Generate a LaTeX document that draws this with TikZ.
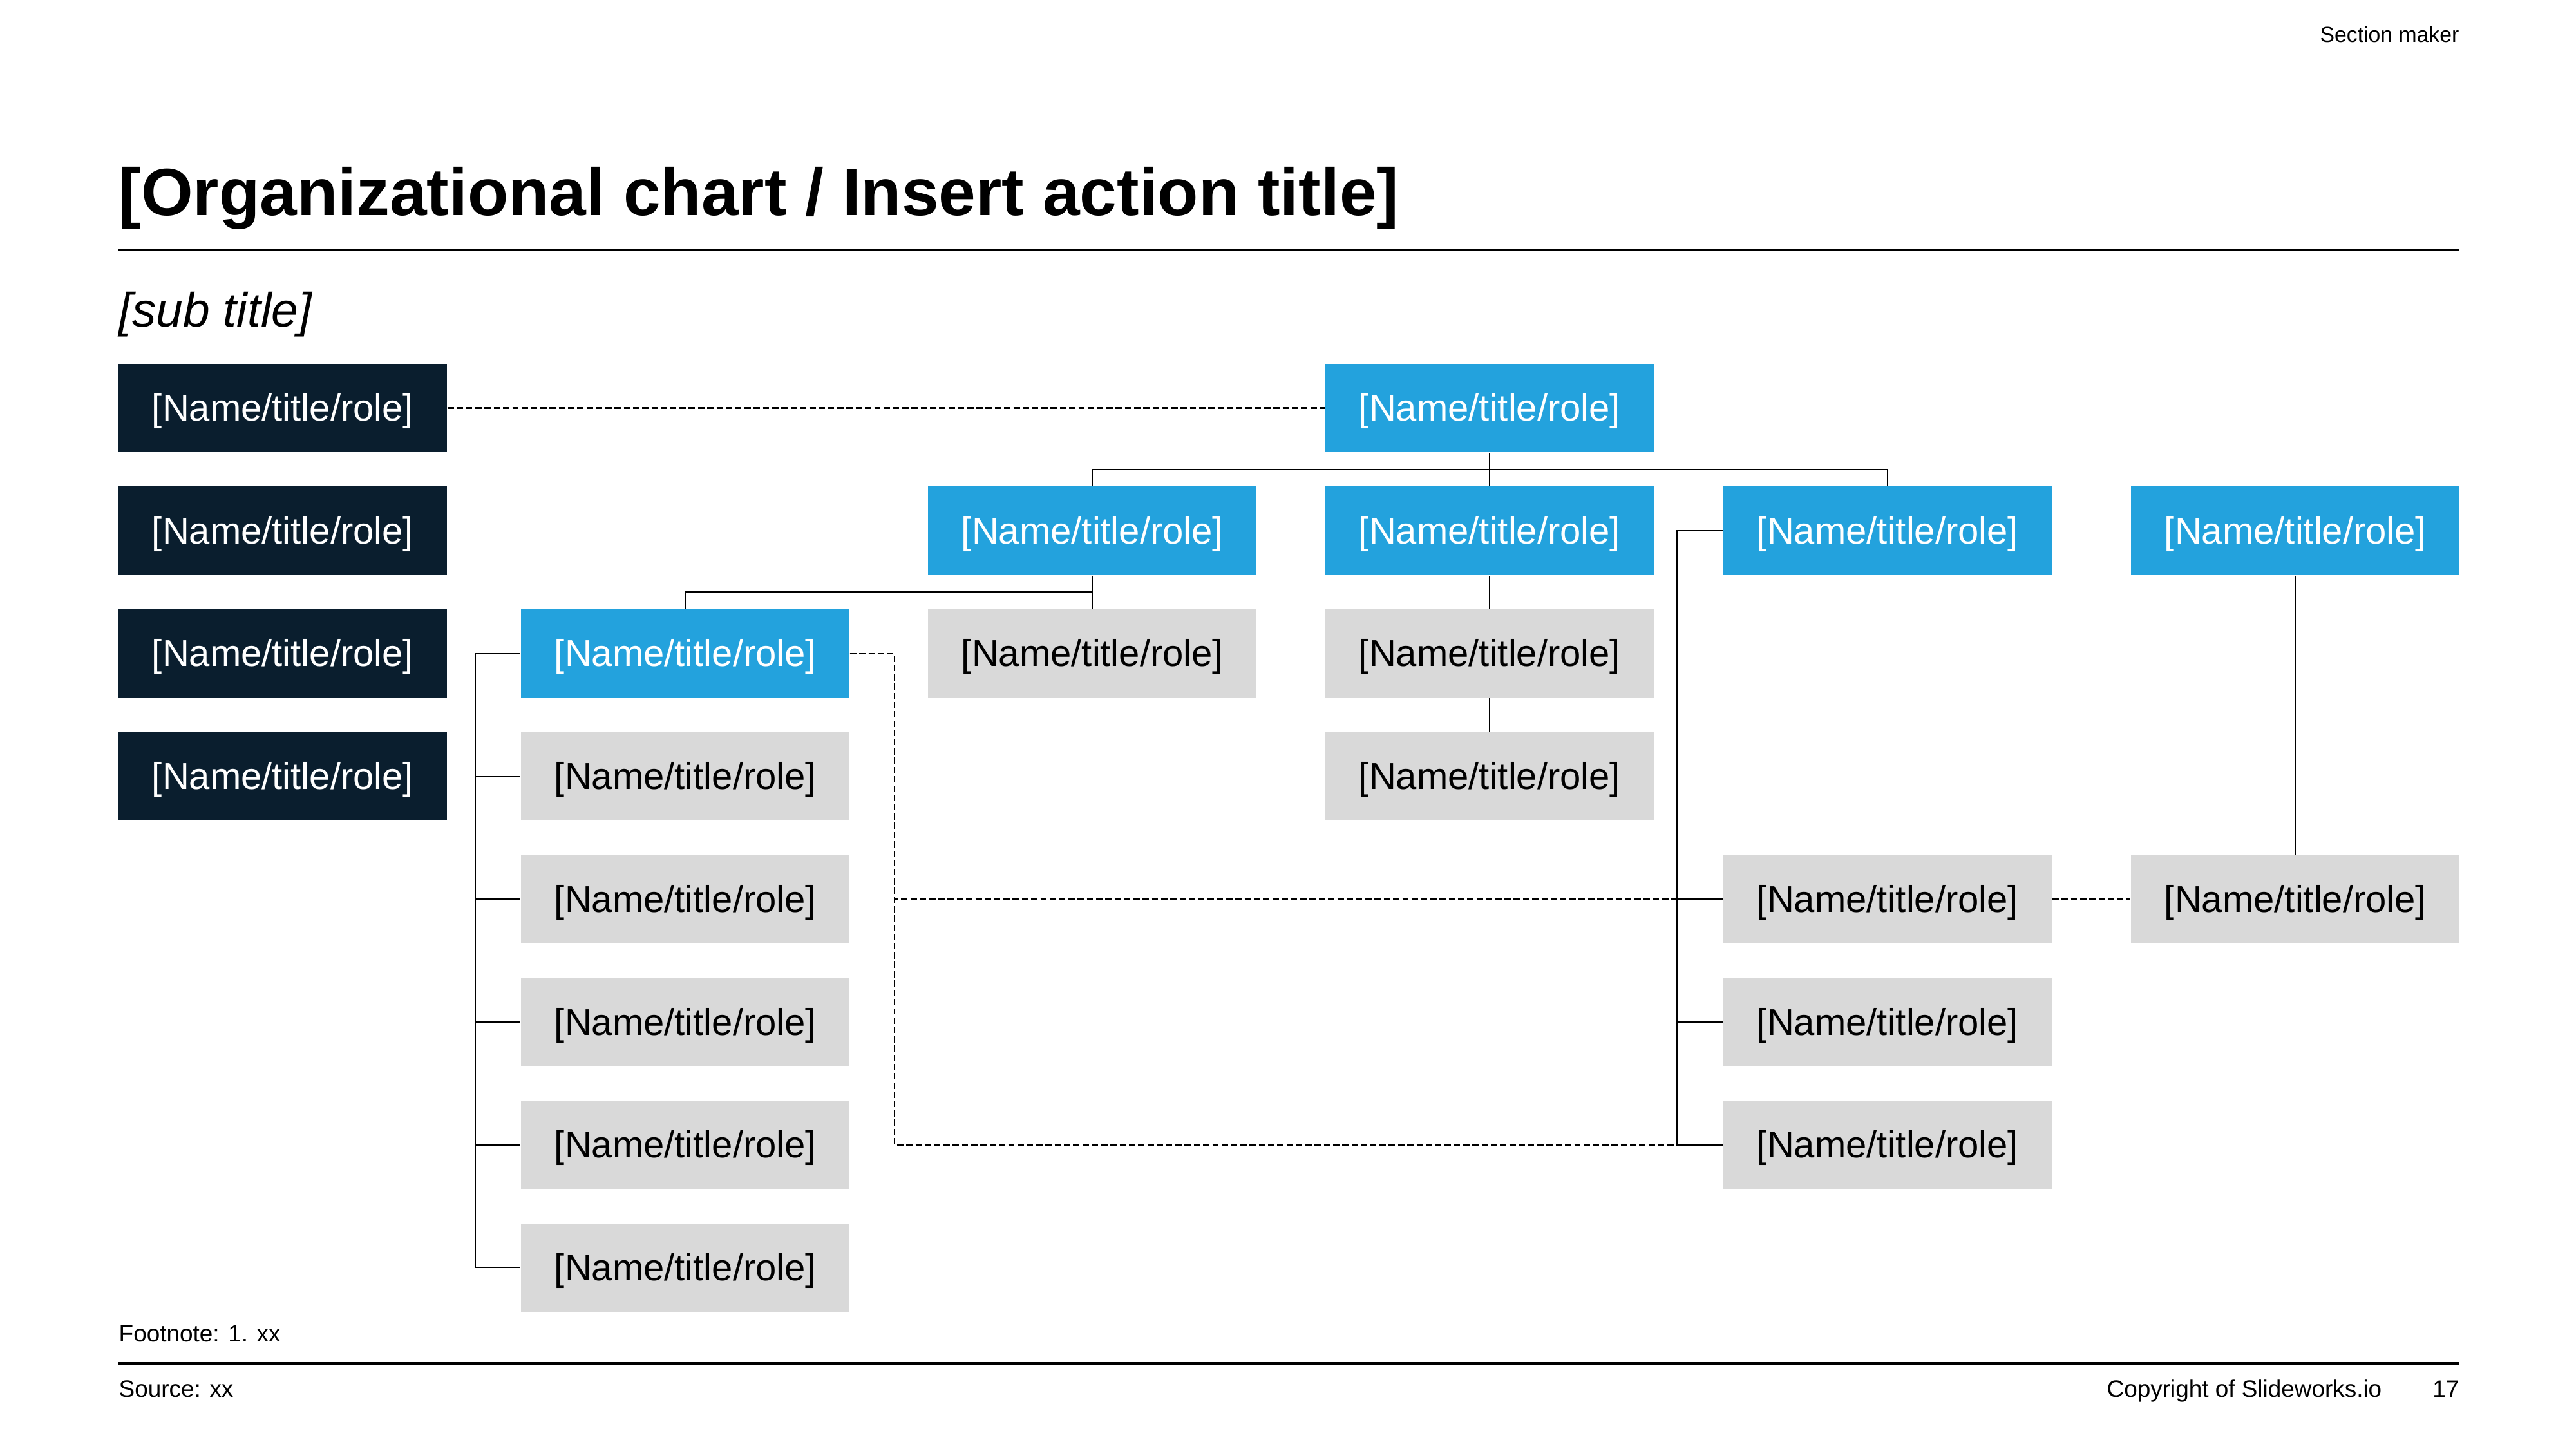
\documentclass[tikz,border=0pt]{standalone}
\usepackage{fontspec}
\setmainfont{Liberation Sans}
\usepackage{tikz}
\usetikzlibrary{positioning,calc}
\definecolor{navybox}{HTML}{0A1E2E}
\definecolor{orgblue}{HTML}{23A2DD}
\definecolor{orggray}{HTML}{D9D9D9}
\tikzset{
  orgbox/.style={inner sep=0pt, minimum width=5.1cm, minimum height=1.375cm, text height=14.9pt, text depth=3.5pt, align=center, font=\fontsize{16.5}{19}\selectfont},
  darknode/.style={orgbox, fill=navybox, text=white},
  bluenode/.style={orgbox, fill=orgblue, text=white},
  graynode/.style={orgbox, fill=orggray, text=black},
  orgline/.style={line width=0.6pt, black},
  dotline/.style={line width=0.6pt, black, dash pattern=on 2.8pt off 1.3pt},
  smalltext/.style={inner sep=0pt, font=\fontsize{10.5}{12}\selectfont}
}

\begin{document}
\begin{tikzpicture}
  \fill[white] (0,0) rectangle (40,-22.5);
  \useasboundingbox (0,0) rectangle (40,-22.5);

  % header
  \node[smalltext, anchor=base east, font=\fontsize{9.6}{11}\selectfont] (section) at (38.19,-0.66) {Section maker};
  \node[inner sep=0pt, anchor=base west, font=\fontsize{29.5}{34}\selectfont\bfseries] (title) at (1.84,-3.35) {[Organizational chart / Insert action title]};
  \draw[line width=1pt] (1.84,-3.88) -- (38.19,-3.88);
  \node[inner sep=0pt, anchor=base west, font=\fontsize{21.3}{25}\selectfont\itshape] (subtitle) at (1.84,-5.08) {[sub title]};

  % left column
  \node[darknode] (d1) at (4.39,-6.335) {[Name/title/role]};
  \node[darknode] (d2) at (4.39,-8.242) {[Name/title/role]};
  \node[darknode] (d3) at (4.39,-10.149) {[Name/title/role]};
  \node[darknode] (d4) at (4.39,-12.056) {[Name/title/role]};

  % head and second level
  \node[bluenode] (head) at (23.13,-6.335) {[Name/title/role]};
  \node[bluenode] (b2) at (16.96,-8.242) {[Name/title/role]};
  \node[bluenode] (b3) at (23.13,-8.242) {[Name/title/role]};
  \node[bluenode] (b4) at (29.31,-8.242) {[Name/title/role]};
  \node[bluenode] (b5) at (35.64,-8.242) {[Name/title/role]};
  \node[bluenode] (b1) at (10.64,-10.149) {[Name/title/role]};

  % gray boxes
  \node[graynode] (g2a) at (16.96,-10.149) {[Name/title/role]};
  \node[graynode] (g3a) at (23.13,-10.149) {[Name/title/role]};
  \node[graynode] (g3b) at (23.13,-12.056) {[Name/title/role]};
  \node[graynode] (g1a) at (10.64,-12.056) {[Name/title/role]};
  \node[graynode] (g1b) at (10.64,-13.963) {[Name/title/role]};
  \node[graynode] (g1c) at (10.64,-15.870) {[Name/title/role]};
  \node[graynode] (g1d) at (10.64,-17.777) {[Name/title/role]};
  \node[graynode] (g1e) at (10.64,-19.684) {[Name/title/role]};
  \node[graynode] (g4a) at (29.31,-13.963) {[Name/title/role]};
  \node[graynode] (g4b) at (29.31,-15.870) {[Name/title/role]};
  \node[graynode] (g4c) at (29.31,-17.777) {[Name/title/role]};
  \node[graynode] (g5a) at (35.64,-13.963) {[Name/title/role]};

  % solid reporting lines
  \draw[orgline] (head.south) -- (b3.north);
  \draw[orgline] (b2.north) |- ($(head.south)!0.5!(b3.north)$) -| (b4.north);
  \draw[orgline] (b2.south) -- (g2a.north);
  \draw[orgline] ($(b2.south)!0.5!(g2a.north)$) -| (b1.north);
  \draw[orgline] (b3.south) -- (g3a.north);
  \draw[orgline] (g3a.south) -- (g3b.north);
  \draw[orgline] (b5.south) -- (g5a.north);
  \draw[orgline] (b1.west) -- ++(-0.7,0) |- (g1e.west);
  \draw[orgline] (b1.west) -- ++(-0.7,0) |- (g1a.west);
  \draw[orgline] (b1.west) -- ++(-0.7,0) |- (g1b.west);
  \draw[orgline] (b1.west) -- ++(-0.7,0) |- (g1c.west);
  \draw[orgline] (b1.west) -- ++(-0.7,0) |- (g1d.west);
  \draw[orgline] (b4.west) -- ++(-0.71,0) |- (g4c.west);
  \draw[orgline] (b4.west) -- ++(-0.71,0) |- (g4a.west);
  \draw[orgline] (b4.west) -- ++(-0.71,0) |- (g4b.west);

  % dotted lines
  \draw[dotline] (d1.east) -- (head.west);
  \draw[dotline] (b1.east) -- ++(0.69,0) |- (g4a.west);
  \draw[dotline] (b1.east) -- ++(0.69,0) |- (g4c.west);
  \draw[dotline] (g4a.east) -- (g5a.west);

  % footer
  \node[smalltext, anchor=base west] (footnote) at (1.84,-20.83) {Footnote: 1. xx};
  \draw[line width=1pt] (1.84,-21.17) -- (38.19,-21.17);
  \node[smalltext, anchor=base west] (source) at (1.84,-21.69) {Source: xx};
  \node[smalltext, anchor=base east] (copyright) at (36.99,-21.69) {Copyright of Slideworks.io};
  \node[smalltext, anchor=base east] (pagenum) at (38.19,-21.69) {17};
\end{tikzpicture}
\end{document}
